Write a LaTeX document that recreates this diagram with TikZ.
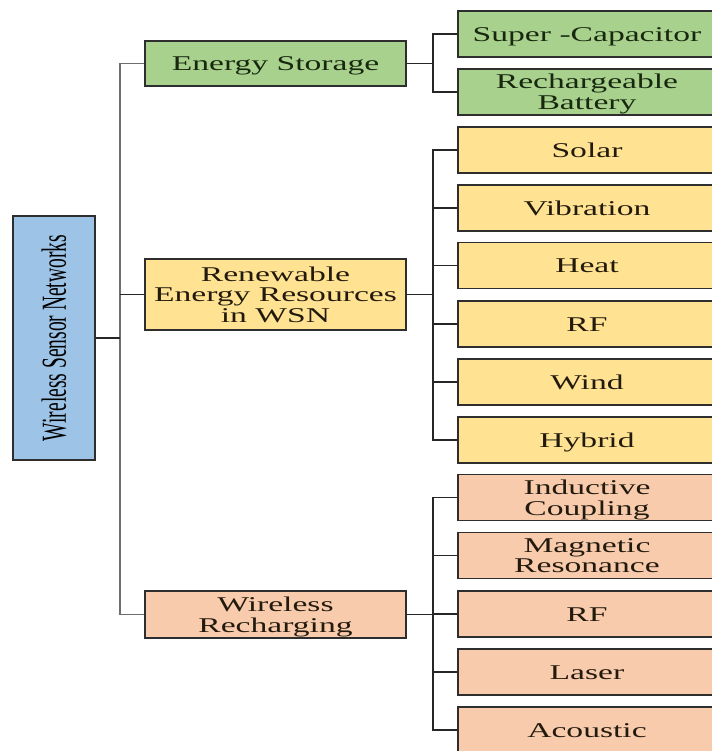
\documentclass[tikz,border=0pt]{standalone}
\usepackage{fontspec}
\usepackage{graphicx}
\setmainfont{Liberation Serif}
\definecolor{wsnblue}{HTML}{9DC3E6}
\definecolor{stgreen}{HTML}{A9D18E}
\definecolor{renyellow}{HTML}{FFE393}
\definecolor{wrorange}{HTML}{F8CBAD}
\definecolor{boxline}{HTML}{2E2E2E}
\definecolor{busgray}{HTML}{6E6E6E}
\definecolor{txtgreen}{HTML}{18280F}
\definecolor{txtbrown}{HTML}{231A0E}
% widened box text, lowered so the capitals sit on the box centre
\newcommand\widetext[1]{\raisebox{-3pt}[\height][\depth]{\scalebox{1.6}[1]{\begin{tabular}{@{}c@{}}#1\end{tabular}}}}
\begin{document}
\begin{tikzpicture}[x=1pt,y=-1pt,
  box/.style={draw=boxline,line width=1.1pt,rectangle,inner sep=0pt,
    font=\fontsize{21}{20.5}\selectfont},
  rootbox/.style={box,fill=wsnblue,minimum width=82pt,minimum height=244pt,text=black},
  midbox/.style={box,minimum width=261pt},
  leafbox/.style={box,minimum width=258pt,minimum height=46pt},
  greenbox/.style={fill=stgreen,text=txtgreen},
  yellowbox/.style={fill=renyellow,text=txtbrown},
  orangebox/.style={fill=wrorange,text=txtbrown},
  link/.style={draw=black!85,line width=1.3pt},
  mainbus/.style={draw=busgray,line width=1.8pt}]
\useasboundingbox (0,0) rectangle (711,751);
\fill[white] (0,0) rectangle (711,751);

% root
\node[rootbox] (wsn) at (54,338)
  {\rotatebox{90}{\scalebox{1}[1.8]{\fontsize{19.5}{20}\selectfont Wireless Sensor Networks}}};

% first level
\node[midbox,greenbox,minimum height=45pt] (es) at (275.5,63.5) {\widetext{Energy Storage}};
\node[midbox,yellowbox,minimum height=71pt] (rn) at (275.5,294.5) {\widetext{Renewable\\Energy Resources\\in WSN}};
\node[midbox,orangebox,minimum height=47pt] (wr) at (275.5,614.5) {\widetext{Wireless\\Recharging}};

% energy storage leaves
\node[leafbox,greenbox] (sc) at (587,34) {\widetext{Super -Capacitor}};
\node[leafbox,greenbox] (rb) at (587,92) {\widetext{Rechargeable\\Battery}};

% renewable leaves
\node[leafbox,yellowbox] (solar) at (587,150) {\widetext{Solar}};
\node[leafbox,yellowbox] (vib) at (587,208) {\widetext{Vibration}};
\node[leafbox,yellowbox] (heat) at (587,265.5) {\widetext{Heat}};
\node[leafbox,yellowbox] (rfa) at (587,324) {\widetext{RF}};
\node[leafbox,yellowbox] (wind) at (587,382) {\widetext{Wind}};
\node[leafbox,yellowbox] (hyb) at (587,440) {\widetext{Hybrid}};

% wireless recharging leaves
\node[leafbox,orangebox] (ind) at (587,497.5) {\widetext{Inductive\\Coupling}};
\node[leafbox,orangebox] (mag) at (587,555.5) {\widetext{Magnetic\\Resonance}};
\node[leafbox,orangebox] (rfb) at (587,614) {\widetext{RF}};
\node[leafbox,orangebox] (las) at (587,672) {\widetext{Laser}};
\node[leafbox,orangebox] (aco) at (587,730) {\widetext{Acoustic}};

% bus positions
\coordinate (b1) at (120,0);
\coordinate (b2) at (433,0);

% root to first level
\draw[mainbus] (es.west) -- (es.west -| b1) -- (wr.west -| b1) -- (wr.west);
\draw[link] (rn.west) -- (rn.west -| b1);
\draw[link] (wsn.east) -- (wsn.east -| b1);

% energy storage branch
\draw[link] (es.east) -- (es.east -| b2);
\draw[link] (sc.west) -- (sc.west -| b2) -- (rb.west -| b2) -- (rb.west);

% renewable branch
\draw[link] (rn.east) -- (rn.east -| b2);
\draw[link] (solar.west) -- (solar.west -| b2) -- (hyb.west -| b2) -- (hyb.west);
\foreach \n in {vib,heat,rfa,wind}
  \draw[link] (\n.west) -- (\n.west -| b2);

% wireless recharging branch
\draw[link] (wr.east) -- (wr.east -| b2);
\draw[link] (ind.west) -- (ind.west -| b2) -- (aco.west -| b2) -- (aco.west);
\foreach \n in {mag,rfb,las}
  \draw[link] (\n.west) -- (\n.west -| b2);
\end{tikzpicture}
\end{document}
